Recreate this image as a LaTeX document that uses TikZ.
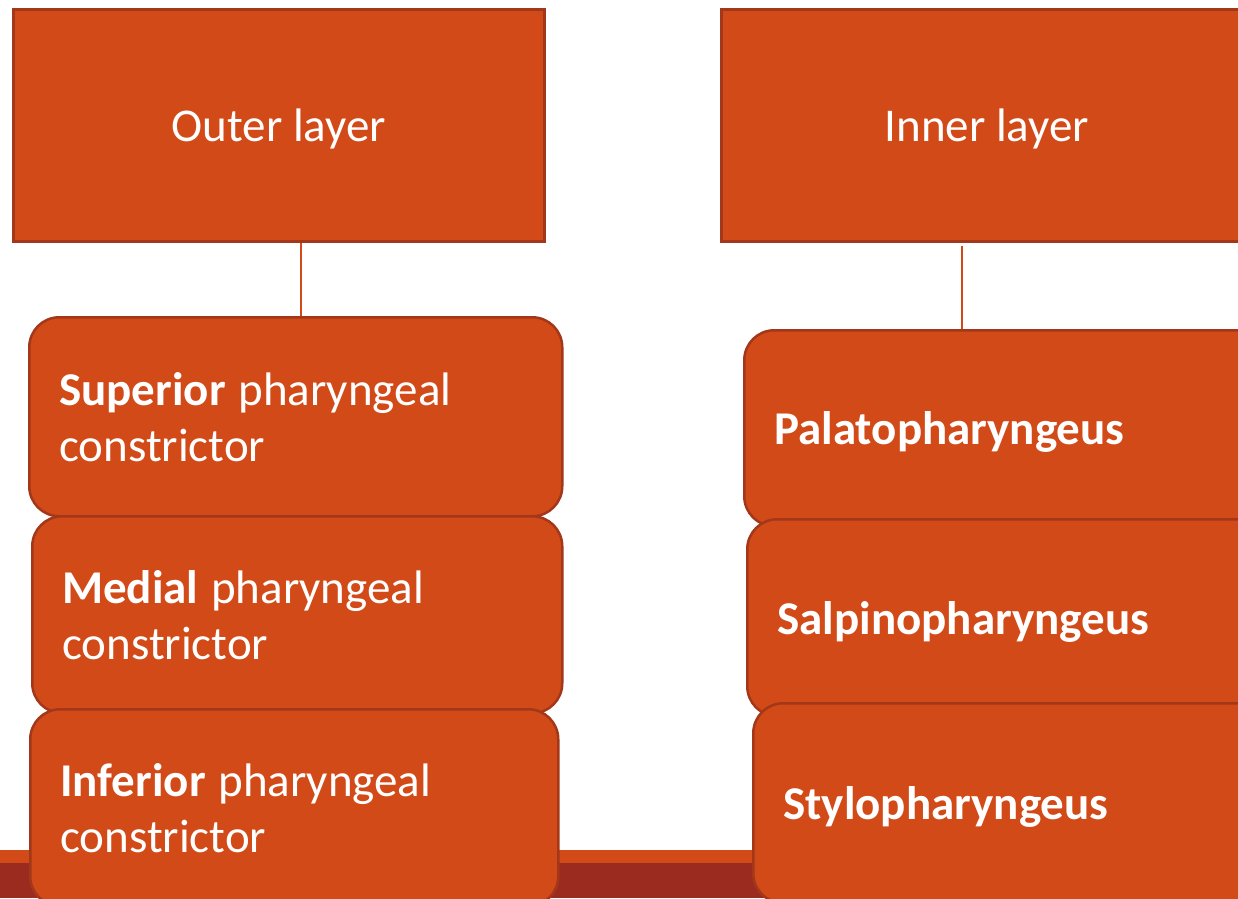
\documentclass[tikz,border=0pt]{standalone}
\usepackage{fontspec}
\setmainfont{Carlito}
\definecolor{boxfill}{HTML}{D24A18}
\definecolor{boxline}{HTML}{A3371A}
\definecolor{banddark}{HTML}{9C2B1F}
\definecolor{bandlight}{HTML}{D24A18}
\newcommand{\lowered}[1]{\raisebox{-4pt}[\height][\depth]{#1}}
\begin{document}
\begin{tikzpicture}[x=1pt,y=-1pt,
  rectbox/.style={draw=boxline, line width=2.5pt, fill=boxfill, text=white,
    font=\fontsize{47}{56}\selectfont, inner sep=0pt, anchor=north west},
  pillbox/.style={rectbox, rounded corners=30pt, align=left, inner xsep=30pt, inner ysep=0pt},
  link/.style={draw=boxfill, line width=2.2pt}]
\useasboundingbox (0,0) rectangle (1238,898);
\clip (0,0) rectangle (1238,898);
% bottom band
\fill[bandlight] (0,850) rectangle (1238,863);
\fill[banddark] (0,863) rectangle (1238,898);
% header boxes
\node[rectbox, minimum width=531pt, minimum height=232pt] (outer) at (12,8) {\lowered{Outer layer}};
\node[rectbox, minimum width=531pt, minimum height=232pt] (inner) at (720,8) {\lowered{Inner layer}};
% left stack
\node[pillbox, text width=473pt, minimum height=199pt] (s1) at (28,316)
  {\textbf{Superior}\hspace{-3pt} pharyngeal\\constrictor};
\node[pillbox, text width=470pt, minimum height=197pt] (s2) at (31,515)
  {\textbf{Medial}\hspace{-3pt} pharyngeal\\constrictor};
\node[pillbox, text width=468pt, minimum height=197pt] (s3) at (29,708)
  {\textbf{Inferior}\hspace{-3pt} pharyngeal\\constrictor};
% right stack
\node[pillbox, text width=470pt, minimum height=196pt] (r1) at (743,329)
  {\lowered{\textbf{Palatopharyngeus}}};
\node[pillbox, text width=470pt, minimum height=197pt] (r2) at (746,518)
  {\lowered{\textbf{Salpinopharyngeus}}};
\node[pillbox, text width=470pt, minimum height=200pt] (r3) at (752,702)
  {\lowered{\textbf{Stylopharyngeus}}};
% connectors
\coordinate (cl) at (301,0);
\coordinate (cr) at (962,0);
\draw[link] (outer.south -| cl) -- (s1.north -| cl);
\draw[link] ([yshift=-3pt]inner.south -| cr) -- (r1.north -| cr);
\end{tikzpicture}
\end{document}
